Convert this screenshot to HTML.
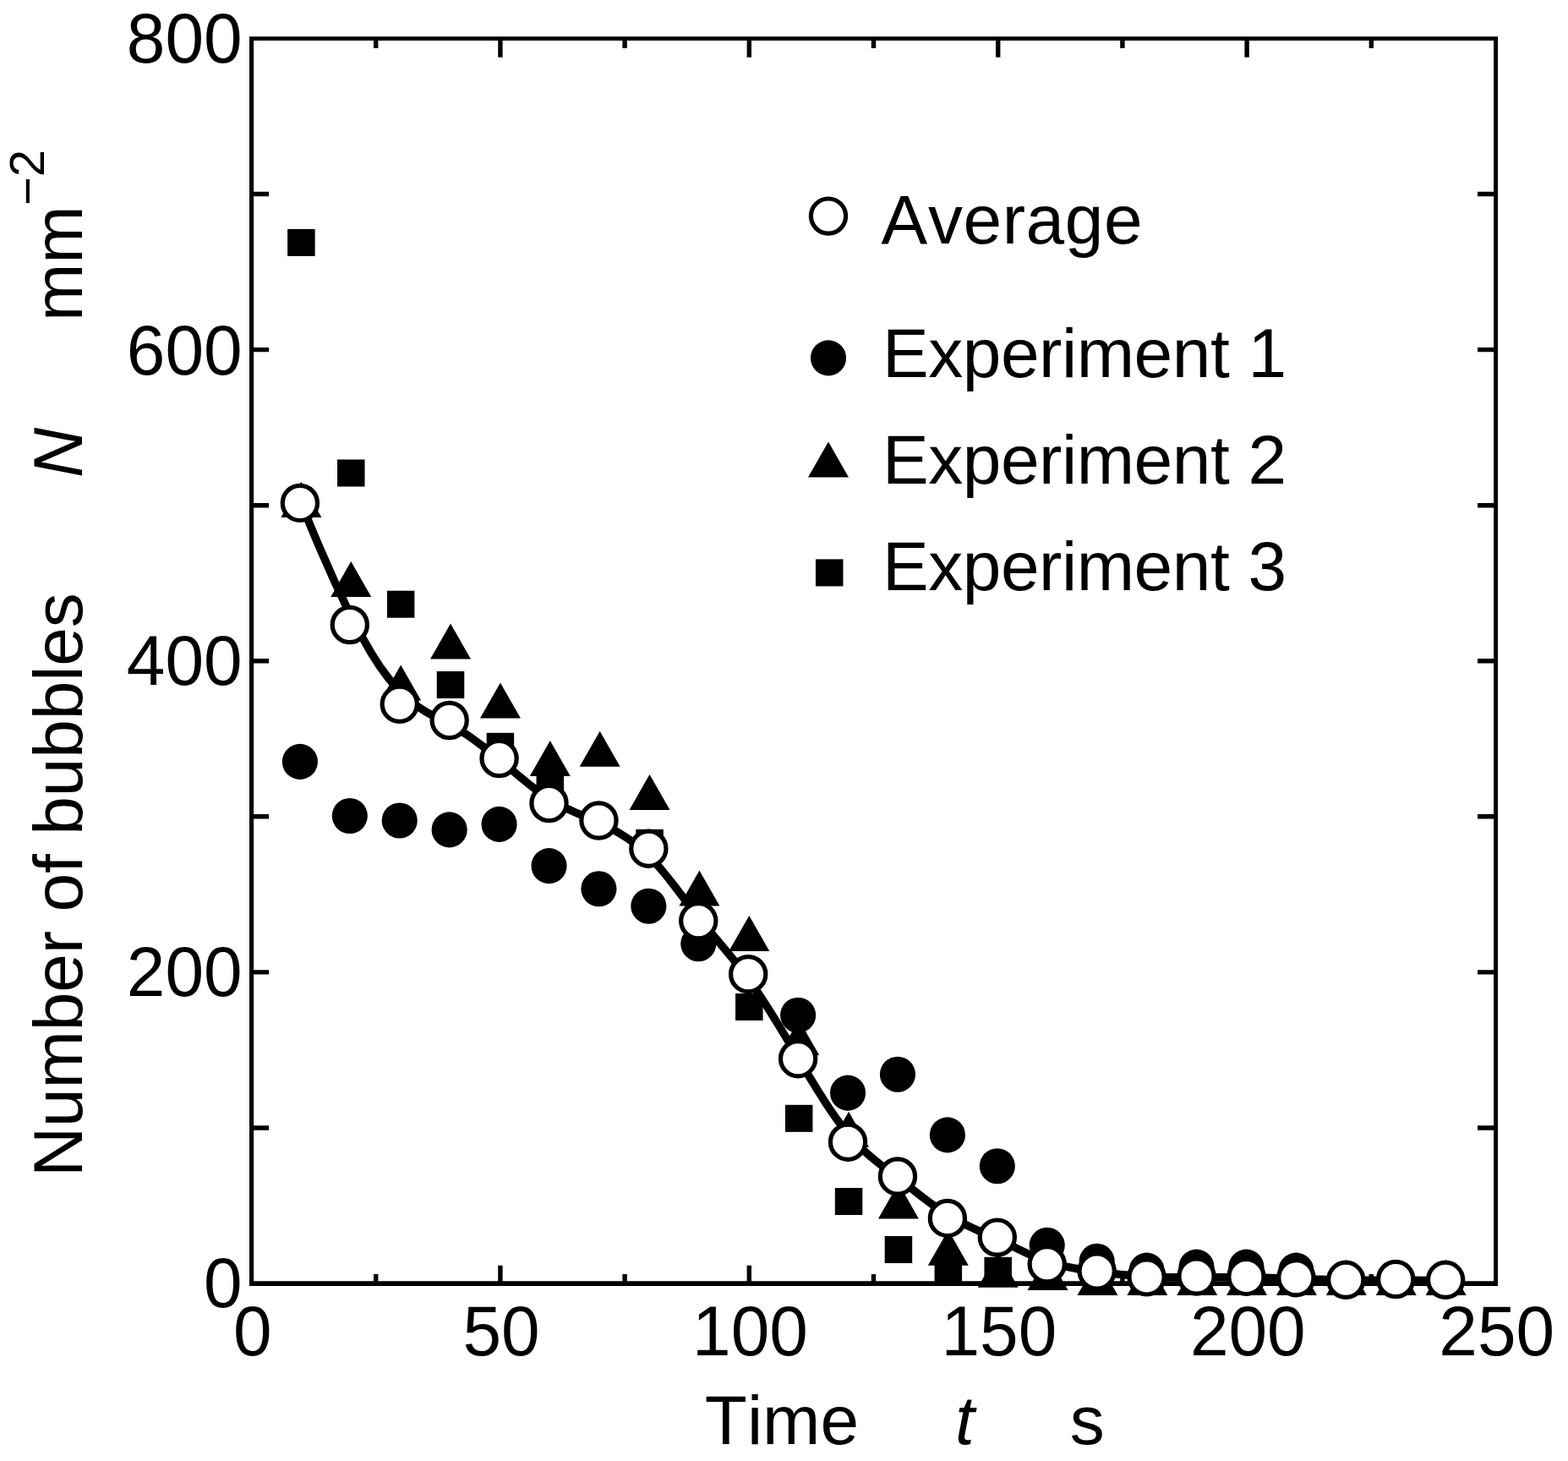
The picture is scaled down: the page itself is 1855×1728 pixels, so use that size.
<!DOCTYPE html>
<html lang="en">
<head>
<meta charset="utf-8">
<title>Number of bubbles vs time</title>
<style>
html,body{margin:0;padding:0;background:#fff;}
body{width:1855px;height:1728px;overflow:hidden;}
svg{display:block;}
</style>
</head>
<body>
<svg width="1855" height="1728" viewBox="0 0 1855 1728" role="img" aria-label="Number of bubbles N versus time t">
<rect width="1855" height="1728" fill="#fff"/>
<g stroke="#000" stroke-width="5.4" fill="none" stroke-linecap="butt">
<path d="M444.7 1518 v-11.1 M444.7 45.5 v11.4"/>
<path d="M591.9 1518 v-21.2 M591.9 45.5 v22.3"/>
<path d="M739.1 1518 v-11.1 M739.1 45.5 v11.4"/>
<path d="M886.3 1518 v-21.2 M886.3 45.5 v22.3"/>
<path d="M1033.5 1518 v-11.1 M1033.5 45.5 v11.4"/>
<path d="M1180.7 1518 v-21.2 M1180.7 45.5 v22.3"/>
<path d="M1327.9 1518 v-11.1 M1327.9 45.5 v11.4"/>
<path d="M1475.1 1518 v-21.2 M1475.1 45.5 v22.3"/>
<path d="M1622.3 1518 v-11.1 M1622.3 45.5 v11.4"/>
<path d="M297.5 1333.94 h20.6 M1769.5 1333.94 h-21.5"/>
<path d="M297.5 1149.88 h20.6 M1769.5 1149.88 h-21.5"/>
<path d="M297.5 965.81 h20.6 M1769.5 965.81 h-21.5"/>
<path d="M297.5 781.75 h20.6 M1769.5 781.75 h-21.5"/>
<path d="M297.5 597.69 h20.6 M1769.5 597.69 h-21.5"/>
<path d="M297.5 413.62 h20.6 M1769.5 413.62 h-21.5"/>
<path d="M297.5 229.56 h20.6 M1769.5 229.56 h-21.5"/>
</g>
<path fill="#000" fill-rule="evenodd" d="M295 43.15 H1772.05 V1520.9 H295 Z M300.1 48 V1515.15 H1767.1 V48 Z"/>
<g fill="#000">
<circle cx="354.88" cy="900.9" r="21.05"/>
<circle cx="413.8" cy="965" r="21.05"/>
<circle cx="472.73" cy="970.5" r="21.05"/>
<circle cx="531.65" cy="981.4" r="21.05"/>
<circle cx="590.57" cy="974.9" r="21.05"/>
<circle cx="649.5" cy="1024.1" r="21.05"/>
<circle cx="708.42" cy="1051.3" r="21.05"/>
<circle cx="767.34" cy="1071.7" r="21.05"/>
<circle cx="826.27" cy="1116.2" r="21.05"/>
<circle cx="885.19" cy="1153" r="21.05"/>
<circle cx="944.11" cy="1200.7" r="21.05"/>
<circle cx="1003.04" cy="1292.6" r="21.05"/>
<circle cx="1061.96" cy="1270.7" r="21.05"/>
<circle cx="1120.89" cy="1342.4" r="21.05"/>
<circle cx="1179.81" cy="1379.2" r="21.05"/>
<circle cx="1238.73" cy="1472.8" r="21.05"/>
<circle cx="1297.66" cy="1491.8" r="21.05"/>
<circle cx="1356.58" cy="1502.6" r="21.05"/>
<circle cx="1415.5" cy="1498.6" r="21.05"/>
<circle cx="1474.43" cy="1498.6" r="21.05"/>
<circle cx="1533.35" cy="1502.6" r="21.05"/>
<path d="M356.38 570.1 L380.38 612.1 L332.38 612.1 Z"/>
<path d="M415.26 663.9 L439.26 705.9 L391.26 705.9 Z"/>
<path d="M474.14 786.6 L498.14 828.6 L450.14 828.6 Z"/>
<path d="M533.02 737.6 L557.02 779.6 L509.02 779.6 Z"/>
<path d="M591.9 807.6 L615.9 849.6 L567.9 849.6 Z"/>
<path d="M650.78 876.1 L674.78 918.1 L626.78 918.1 Z"/>
<path d="M709.66 864.7 L733.66 906.7 L685.66 906.7 Z"/>
<path d="M768.54 915.9 L792.54 957.9 L744.54 957.9 Z"/>
<path d="M827.42 1029.6 L851.42 1071.6 L803.42 1071.6 Z"/>
<path d="M886.3 1083 L910.3 1125 L862.3 1125 Z"/>
<path d="M945.18 1206 L969.18 1248 L921.18 1248 Z"/>
<path d="M1004.06 1314.8 L1028.06 1356.8 L980.06 1356.8 Z"/>
<path d="M1062.94 1399.4 L1086.94 1441.4 L1038.94 1441.4 Z"/>
<path d="M1121.82 1454.7 L1145.82 1496.7 L1097.82 1496.7 Z"/>
<path d="M1180.7 1480.8 L1204.7 1522.8 L1156.7 1522.8 Z"/>
<path d="M1239.58 1484 L1263.58 1526 L1215.58 1526 Z"/>
<path d="M1298.46 1490 L1322.46 1532 L1274.46 1532 Z"/>
<path d="M1357.34 1490 L1381.34 1532 L1333.34 1532 Z"/>
<path d="M1416.22 1490 L1440.22 1532 L1392.22 1532 Z"/>
<path d="M1475.1 1490 L1499.1 1532 L1451.1 1532 Z"/>
<path d="M1533.98 1490 L1557.98 1532 L1509.98 1532 Z"/>
<path d="M1592.86 1490 L1616.86 1532 L1568.86 1532 Z"/>
<path d="M1651.74 1490 L1675.74 1532 L1627.74 1532 Z"/>
<path d="M1710.62 1490 L1734.62 1532 L1686.62 1532 Z"/>
<rect x="340.13" y="270.9" width="32.5" height="32"/>
<rect x="399.01" y="543.5" width="32.5" height="32"/>
<rect x="457.89" y="698.7" width="32.5" height="32"/>
<rect x="516.77" y="794" width="32.5" height="32"/>
<rect x="575.65" y="866.8" width="32.5" height="32"/>
<rect x="634.53" y="906" width="32.5" height="32"/>
<rect x="752.29" y="980.9" width="32.5" height="32"/>
<rect x="870.05" y="1175" width="32.5" height="32"/>
<rect x="928.93" y="1306.8" width="32.5" height="32"/>
<rect x="987.81" y="1405" width="32.5" height="32"/>
<rect x="1046.69" y="1462" width="32.5" height="32"/>
<rect x="1105.57" y="1487" width="32.5" height="32"/>
<rect x="1164.45" y="1486.8" width="32.5" height="32"/>
</g>
<path d="M356.4 595.8 L377.1 645.4 L395.4 686.9 L411.5 721 L425.7 748.7 L438.3 770.9 L449.5 788.5 L459.8 802.4 L469.2 813.5 L478.2 822.5 L486.8 830 L495 836.2 L503 841.3 L510.7 845.7 L518.2 849.6 L525.7 853.4 L533 857.2 L540.4 861.4 L547.7 866 L555.1 870.9 L562.5 876.2 L569.8 881.6 L577.2 887.3 L584.5 893.2 L591.9 899.3 L599.3 905.5 L606.6 911.7 L614 917.9 L621.3 923.9 L628.7 929.8 L636.1 935.4 L643.4 940.7 L650.8 945.5 L658.1 949.8 L665.5 953.8 L672.9 957.4 L680.2 960.7 L687.6 963.9 L694.9 967.1 L702.3 970.2 L709.7 973.5 L717 977 L724.4 980.7 L731.7 984.8 L739.1 989.4 L746.5 994.4 L753.8 1000 L761.2 1006.3 L768.5 1013.3 L775.9 1021.1 L783.3 1029.6 L790.6 1038.6 L798 1048 L805.3 1057.6 L812.7 1067.3 L820.1 1076.9 L827.4 1086.4 L834.8 1095.5 L842.1 1104.4 L849.5 1113.1 L856.9 1121.9 L864.2 1130.8 L871.6 1139.9 L878.9 1149.3 L886.3 1159.3 L893.7 1169.7 L901 1180.7 L908.4 1192.1 L915.7 1203.8 L923.1 1215.9 L930.5 1228.1 L937.8 1240.4 L945.2 1252.9 L952.5 1265.2 L959.9 1277.5 L967.3 1289.5 L974.6 1301.1 L982 1312.3 L989.3 1322.9 L996.7 1332.8 L1004.1 1342 L1011.4 1350.2 L1018.8 1357.7 L1026.1 1364.6 L1033.5 1370.9 L1040.9 1376.9 L1048.2 1382.6 L1055.6 1388.2 L1062.9 1393.8 L1070.3 1399.5 L1077.7 1405.2 L1085 1411 L1092.4 1416.7 L1099.7 1422.2 L1107.1 1427.6 L1114.5 1432.6 L1121.8 1437.3 L1129.2 1441.6 L1136.5 1445.6 L1143.9 1449.3 L1151.3 1452.8 L1158.6 1456.1 L1166 1459.4 L1173.3 1462.6 L1180.7 1466 L1188.1 1469.4 L1195.4 1473 L1202.8 1476.5 L1210.1 1480 L1217.5 1483.4 L1224.9 1486.6 L1232.2 1489.5 L1239.6 1492.2 L1246.9 1494.5 L1254.3 1496.5 L1261.7 1498.2 L1269 1499.7 L1276.4 1501 L1283.7 1502.1 L1291.1 1503.1 L1298.5 1504.1 L1305.8 1505 L1313.2 1505.9 L1320.5 1506.8 L1327.9 1507.6 L1335.3 1508.3 L1342.6 1509 L1350 1509.5 L1357.3 1510 L1364.7 1510.3 L1372.1 1510.5 L1379.4 1510.7 L1386.8 1510.7 L1394.1 1510.7 L1401.5 1510.7 L1408.9 1510.7 L1416.2 1510.6 L1423.6 1510.6 L1430.9 1510.6 L1438.3 1510.6 L1445.7 1510.6 L1453 1510.7 L1460.4 1510.8 L1467.7 1510.9 L1475.1 1511 L1482.5 1511.1 L1489.8 1511.2 L1497.2 1511.3 L1504.5 1511.5 L1511.9 1511.7 L1519.3 1511.9 L1526.6 1512.1 L1534 1512.3 L1541.3 1512.6 L1548.8 1512.8 L1556.3 1513.1 L1564 1513.3 L1572 1513.6 L1580.2 1513.8 L1588.8 1514 L1597.8 1514.1 L1607.2 1514.1 L1617.5 1514.2 L1628.7 1514.2 L1641.3 1514.2 L1655.5 1514.2 L1671.6 1514.3 L1689.9 1514.5 L1710.6 1514.7" fill="none" stroke="#000" stroke-width="9.4" stroke-linejoin="round" stroke-linecap="butt"/>
<g fill="#fff" stroke="#000" stroke-width="5.2">
<circle cx="354.88" cy="594.9" r="20.6"/>
<circle cx="413.8" cy="739" r="20.6"/>
<circle cx="472.73" cy="832.8" r="20.6"/>
<circle cx="531.65" cy="852" r="20.6"/>
<circle cx="590.57" cy="897.1" r="20.6"/>
<circle cx="649.5" cy="950" r="20.6"/>
<circle cx="708.42" cy="970.5" r="20.6"/>
<circle cx="767.34" cy="1003.7" r="20.6"/>
<circle cx="826.27" cy="1089.2" r="20.6"/>
<circle cx="885.19" cy="1152.2" r="20.6"/>
<circle cx="944.11" cy="1252.2" r="20.6"/>
<circle cx="1003.04" cy="1350.7" r="20.6"/>
<circle cx="1061.96" cy="1391.4" r="20.6"/>
<circle cx="1120.89" cy="1440.9" r="20.6"/>
<circle cx="1179.81" cy="1463.6" r="20.6"/>
<circle cx="1238.73" cy="1495.2" r="20.6"/>
<circle cx="1297.66" cy="1503.4" r="20.6"/>
<circle cx="1356.58" cy="1510.4" r="20.6"/>
<circle cx="1415.5" cy="1509.5" r="20.6"/>
<circle cx="1474.43" cy="1509.9" r="20.6"/>
<circle cx="1533.35" cy="1511.2" r="20.6"/>
<circle cx="1592.27" cy="1513.8" r="20.6"/>
<circle cx="1651.2" cy="1513" r="20.6"/>
<circle cx="1710.12" cy="1513.8" r="20.6"/>
</g>
<circle cx="980" cy="255.6" r="20.6" fill="#fff" stroke="#000" stroke-width="5.2"/>
<circle cx="980" cy="423.4" r="21.05" fill="#000"/>
<path d="M980 522.6 L1004 564.6 L956 564.6 Z" fill="#000"/>
<rect x="964.95" y="661.4" width="32.5" height="32" fill="#000"/>
<g font-family="'Liberation Sans', sans-serif" font-size="82" fill="#000" style="font-kerning:none" font-kerning="none">
<text x="1042.6" y="287.6" letter-spacing="0.6">Average</text>
<text x="1044" y="446" letter-spacing="-0.45">Experiment 1</text>
<text x="1044" y="572" letter-spacing="-0.45">Experiment 2</text>
<text x="1044" y="697.6" letter-spacing="-0.45">Experiment 3</text>
<text transform="translate(298.7 1603) scale(1 1.025)" text-anchor="middle">0</text>
<text transform="translate(593.1 1603) scale(1 1.025)" text-anchor="middle">50</text>
<text transform="translate(887.5 1603) scale(1 1.025)" text-anchor="middle">100</text>
<text transform="translate(1181.9 1603) scale(1 1.025)" text-anchor="middle">150</text>
<text transform="translate(1476.3 1603) scale(1 1.025)" text-anchor="middle">200</text>
<text transform="translate(1770.7 1603) scale(1 1.025)" text-anchor="middle">250</text>
<text transform="translate(286.6 1545.8) scale(1 1.025)" text-anchor="end">0</text>
<text transform="translate(286.6 1178) scale(1 1.025)" text-anchor="end">200</text>
<text transform="translate(286.6 810.2) scale(1 1.025)" text-anchor="end">400</text>
<text transform="translate(286.6 443.4) scale(1 1.025)" text-anchor="end">600</text>
<text transform="translate(286.6 73.9) scale(1 1.025)" text-anchor="end">800</text>
<text x="833.8" y="1707.5">Time</text>
<text x="1130" y="1707.5" font-style="italic">t</text>
<text x="1265.7" y="1707.5">s</text>
<g transform="translate(97 0) rotate(-90)">
<text x="-1392" y="0" letter-spacing="-0.13">Number of bubbles</text>
<text x="-565" y="0" font-style="italic">N</text>
<text x="-380" y="0">mm</text>
<text x="-243" y="-44.9" font-size="58">−2</text>
</g>
</g>
</svg>
</body>
</html>
